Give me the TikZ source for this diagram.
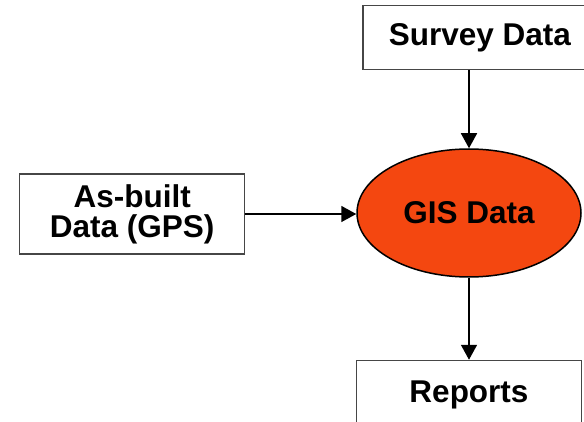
\documentclass[tikz,border=0pt]{standalone}
\usepackage{fontspec}
\setmainfont{Liberation Sans}
\usetikzlibrary{
  arrows.meta,
  positioning,
  shapes.geometric
}
\definecolor{gisFill}{RGB}{244,71,16}
\definecolor{gisLine}{RGB}{70,70,70}
\tikzset{
  gisbox/.style={
    draw=gisLine,
    line width=1.2pt,
    fill=white,
    align=center,
    inner sep=0pt,
    font=\fontsize{31.5}{30}\selectfont\bfseries
  },
  gisblob/.style={
    ellipse,
    draw=black,
    line width=1.5pt,
    fill=gisFill,
    inner sep=0pt,
    minimum width=224pt,
    minimum height=128pt,
    font=\fontsize{31.5}{30}\selectfont\bfseries
  },
  gisarrow/.style={
    -{Triangle[length=15pt,width=16pt]},
    line width=1.6pt,
    draw=black
  }
}

\begin{document}
\begin{tikzpicture}[x=1pt,y=1pt]
  \useasboundingbox (0,0) rectangle (584,-422);
  \node[gisblob] (gis) at (469,-213) {GIS Data};
  \node[gisbox, above=78pt of gis, xshift=11pt, minimum width=234pt, minimum height=64pt] (survey)
    {Survey Data};
  \node[gisbox, left=111pt of gis, yshift=-1pt, minimum width=225pt, minimum height=80pt] (asbuilt)
    {As-built\\Data (GPS)};
  \node[gisbox, below=82pt of gis, minimum width=225pt, minimum height=70pt] (reports)
    {Reports};

  \draw[gisarrow] (survey.south -| gis.north) -- (gis.north);
  \draw[gisarrow] (asbuilt.east) -- (asbuilt.east -| gis.west);
  \draw[gisarrow] (gis.south) -- (reports.north -| gis.south);
\end{tikzpicture}
\end{document}
